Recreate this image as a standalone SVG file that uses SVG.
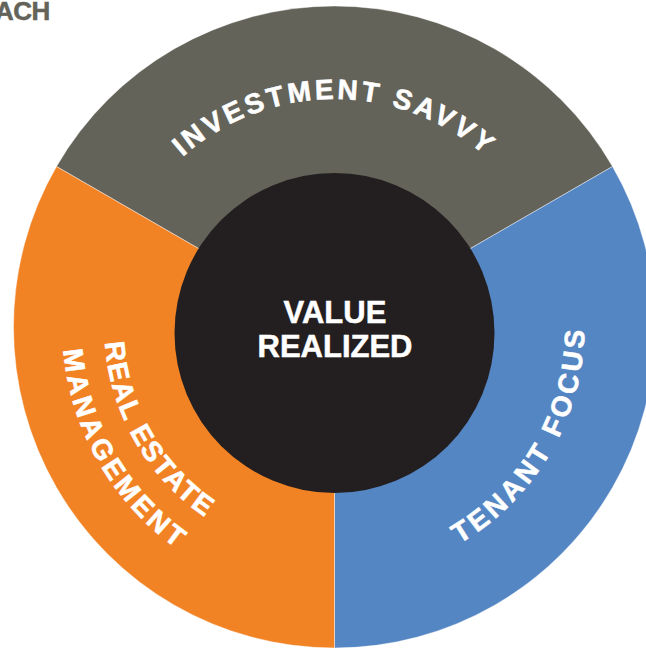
<svg xmlns="http://www.w3.org/2000/svg" width="646" height="649" viewBox="0 0 646 649">
  <defs>
    <style>
      .seg { stroke: #ffffff; stroke-width: 0.7; stroke-opacity: 0.6; }
      .lbl { font-family: "Liberation Sans", Arial, sans-serif; font-weight: bold; fill: #ffffff; stroke: #ffffff; stroke-width: 0.6; font-size: 28px; }
      .ctr { font-family: "Liberation Sans", Arial, sans-serif; font-weight: bold; fill: #ffffff; stroke: #ffffff; stroke-width: 0.5; font-size: 31px; text-anchor: middle; }
    </style>
    <path id="arcTop" d="M 137.06 213 A 228 228 0 0 1 531.94 213"/>
    <path id="arcRight" d="M 334.5 577 A 250 250 0 0 0 551 202"/>
    <path id="arcLeft1" d="M 135.3 212 A 230 230 0 0 0 334.5 557"/>
    <path id="arcLeft2" d="M 98.9 191 A 272 272 0 0 0 334.5 599"/>
  </defs>
  <rect width="646" height="649" fill="#ffffff"/>

  <text x="-5" y="20" font-family="Liberation Sans, Arial, sans-serif" font-weight="bold" font-size="26" letter-spacing="-0.5" fill="#63635a" stroke="#63635a" stroke-width="0.5">ACH</text>

  <g id="segments">
    <g id="investment-savvy">
      <path class="seg" fill="#63635a" d="M 334.5 327 L 56.5 166.5 A 321 321 0 0 1 612.5 166.5 Z"/>
      <text class="lbl" letter-spacing="3.2"><textPath href="#arcTop" startOffset="50%" text-anchor="middle">INVESTMENT SAVVY</textPath></text>
    </g>
    <g id="tenant-focus">
      <path class="seg" fill="#5586c4" d="M 334.5 327 L 612.5 166.5 A 321 321 0 0 1 334.5 648 Z"/>
      <text class="lbl" letter-spacing="3.6"><textPath href="#arcRight" startOffset="50%" text-anchor="middle">TENANT FOCUS</textPath></text>
    </g>
    <g id="real-estate-management">
      <path class="seg" fill="#f28325" d="M 334.5 327 L 334.5 648 A 321 321 0 0 1 56.5 166.5 Z"/>
      <text class="lbl" letter-spacing="1.8"><textPath href="#arcLeft1" startOffset="50%" text-anchor="middle">REAL ESTATE</textPath></text>
      <text class="lbl" letter-spacing="3.5"><textPath href="#arcLeft2" startOffset="50%" text-anchor="middle">MANAGEMENT</textPath></text>
    </g>
  </g>

  <g id="value-realized">
    <circle cx="334.5" cy="333" r="160" fill="#231f20"/>
    <text class="ctr" x="335" y="323.3">VALUE</text>
    <text class="ctr" x="335" y="356.7">REALIZED</text>
  </g>
</svg>
